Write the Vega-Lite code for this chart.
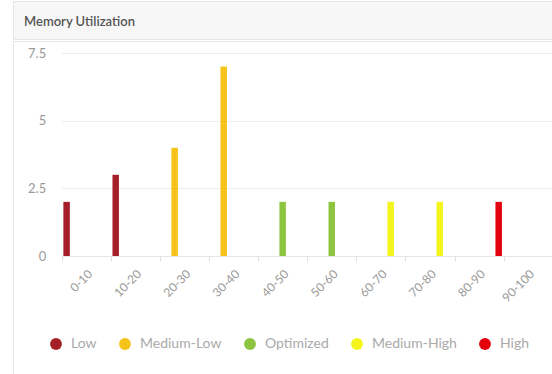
{
  "$schema": "https://vega.github.io/schema/vega-lite/v6.json",
  "background": "white",
  "padding": {"left": 11, "top": 0, "right": 0, "bottom": 0},
  "spacing": 0,
  "config": {"view": {"stroke": null}, "font": "Lato"},
  "vconcat": [
    {
      "width": 560,
      "height": 38,
      "view": {"fill": "#f7f7f7", "stroke": "#e6e6e6"},
      "title": {"text": "Memory Utilization", "anchor": "start", "orient": "top", "offset": -28, "dx": 11, "font": "Lato", "fontSize": 13, "fontWeight": 600, "color": "#555555"},
      "data": {"values": []},
      "mark": "rule",
      "encoding": {}
    },
    {
      "width": 560,
      "height": 340,
      "view": {"fill": "white", "stroke": "#e6e6e6"},
      "data": {
        "values": [
          {"range": "0-10", "level": "Low", "count": 2},
          {"range": "10-20", "level": "Low", "count": 3},
          {"range": "20-30", "level": "Medium-Low", "count": 4},
          {"range": "30-40", "level": "Medium-Low", "count": 7},
          {"range": "40-50", "level": "Optimized", "count": 2},
          {"range": "50-60", "level": "Optimized", "count": 2},
          {"range": "60-70", "level": "Medium-High", "count": 2},
          {"range": "70-80", "level": "Medium-High", "count": 2},
          {"range": "80-90", "level": "High", "count": 2}
        ]
      },
      "mark": {"type": "bar"},
      "encoding": {
        "x": {
          "field": "range",
          "type": "nominal",
          "scale": {"domain": ["0-10", "10-20", "20-30", "30-40", "40-50", "50-60", "60-70", "70-80", "80-90", "90-100"], "paddingInner": 0, "paddingOuter": 0, "range": [48.7, 539.7]},
          "axis": {"title": null, "offset": -125, "labelAngle": -45, "labelAlign": "right", "labelBaseline": "top", "labelFontSize": 12, "labelColor": "#9a9a9a", "labelFont": "Lato", "tickBand": "extent", "tickColor": "#e0e0e0", "tickSize": 5, "domainColor": "#e6e6e6", "labelPadding": 7}
        },
        "xOffset": {
          "field": "level",
          "type": "nominal",
          "scale": {"domain": ["Low", "Medium-Low", "Optimized", "Medium-High", "High"], "paddingInner": 0.34, "paddingOuter": 0.17}
        },
        "y": {
          "field": "count",
          "type": "quantitative",
          "scale": {"domain": [0, 7.5], "nice": false, "range": [215, 12]},
          "axis": {"title": null, "offset": -48.7, "values": [0, 2.5, 5, 7.5], "labelExpr": "datum.value + ''", "domain": false, "ticks": false, "labelPadding": 16, "labelFontSize": 13, "labelColor": "#9a9a9a", "labelFont": "Lato", "gridColor": "#ececec"}
        },
        "color": {
          "field": "level",
          "type": "nominal",
          "scale": {"domain": ["Low", "Medium-Low", "Optimized", "Medium-High", "High"], "range": ["#a51f28", "#f5c31a", "#8dc540", "#f5f51c", "#e4000f"]},
          "legend": {"title": null, "orient": "none", "legendX": 36, "legendY": 336, "direction": "horizontal", "symbolType": "circle", "symbolSize": 140, "symbolStrokeWidth": 0, "symbolOpacity": 1, "labelFontSize": 14, "labelFont": "Lato", "labelColor": "#aaaaaa", "labelOffset": 8, "columnPadding": 21}
        }
      }
    }
  ]
}
